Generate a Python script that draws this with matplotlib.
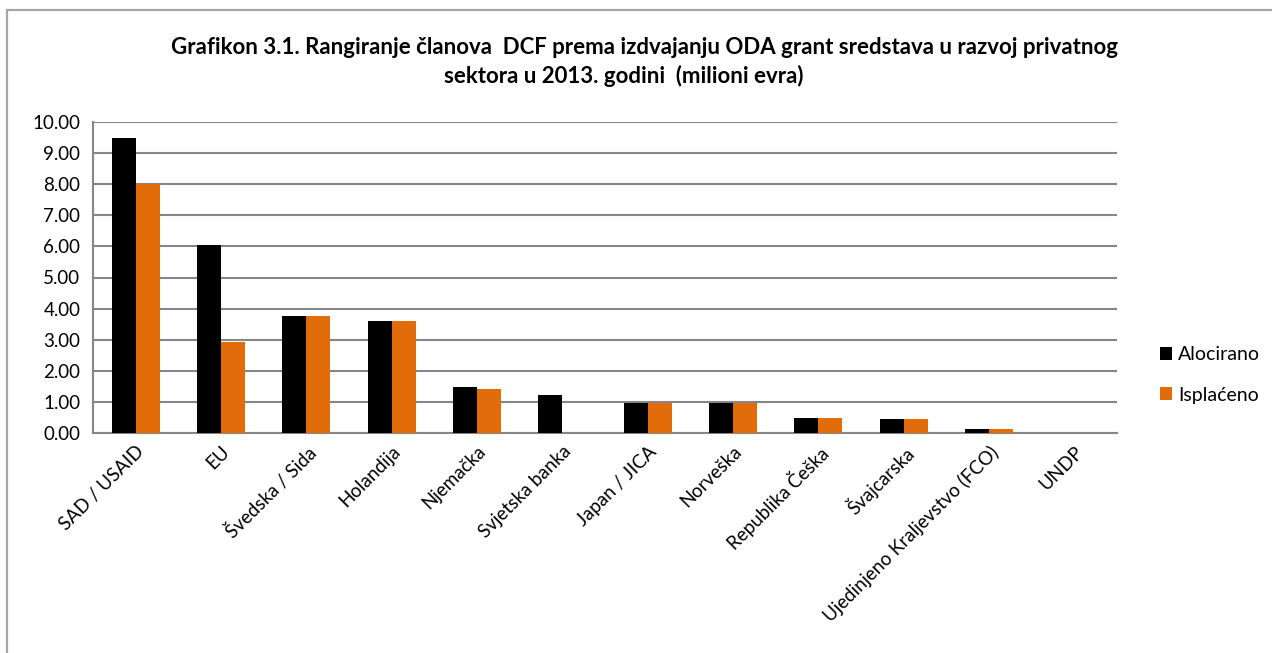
import matplotlib
matplotlib.use("Agg")
from matplotlib import pyplot as plt
from matplotlib.patches import Rectangle
import numpy as np

# data
donors = ["SAD / USAID", "EU", "Švedska / Sida", "Holandija", "Njemačka",
          "Svjetska banka", "Japan / JICA", "Norveška", "Republika Češka",
          "Švajcarska", "Ujedinjeno Kraljevstvo (FCO)", "UNDP"]
alocirano = [9.50, 6.05, 3.75, 3.60, 1.48, 1.21, 0.96, 0.95, 0.48, 0.46, 0.12, 0.0]
isplaceno = [8.02, 2.93, 3.75, 3.60, 1.41, 0.0, 0.96, 0.95, 0.48, 0.46, 0.12, 0.0]
yticks = np.arange(0, 11, 1)

plt.rcParams['font.family'] = ['Lato', 'DejaVu Sans']

fig = plt.figure(figsize=(12.72, 6.53), dpi=100)
# outer chart frame (right/bottom edges run off the picture)
fig.patches.append(Rectangle((7 / 1272, -0.1), 1.2, (653 - 10) / 653 + 0.1,
                             transform=fig.transFigure, fill=False,
                             edgecolor='#a6a6a6', linewidth=1.6))

ax = fig.add_axes([93 / 1272, 1 - 433 / 653, (1117 - 93) / 1272, (433 - 122) / 653])

x = np.arange(len(donors))
w = 0.28
ax.bar(x - w / 2, alocirano, w, color='black', label='Alocirano', zorder=3)
ax.bar(x + w / 2, isplaceno, w, color='#e36c0a', label='Isplaćeno', zorder=3)

ax.set_xlim(-0.5, len(donors) - 0.5)
ax.set_ylim(0, 10)
ax.set_yticks(yticks)
ax.set_yticklabels([f"{v:.2f}" for v in yticks], fontsize=13.5)
ax.yaxis.grid(True, color='#868686', linewidth=1.5, zorder=0)
ax.tick_params(axis='y', length=0, pad=9)
ax.tick_params(axis='x', length=0, pad=7)
ax.set_xticks(x)
ax.set_xticklabels(donors, rotation=45, ha='right', va='top',
                   rotation_mode='anchor', fontsize=13.5)
for s in ['top', 'right']:
    ax.spines[s].set_visible(False)
for s in ['left', 'bottom']:
    ax.spines[s].set_color('#868686')
    ax.spines[s].set_linewidth(1.5)

fig.text(0.507, 1 - 47 / 653,
         "Grafikon 3.1. Rangiranje članova  DCF prema izdvajanju ODA grant sredstava u razvoj privatnog",
         ha='center', va='center', fontsize=16, fontweight='bold')
fig.text(0.49, 1 - 76 / 653, "sektora u 2013. godini  (milioni evra)",
         ha='center', va='center', fontsize=16, fontweight='bold')

fig.legend(loc='center left', bbox_to_anchor=(1142 / 1272, 1 - 375 / 653),
           frameon=False, fontsize=14, handlelength=0.65, handleheight=0.65,
           handletextpad=0.3, labelspacing=1.2)

plt.savefig('out.png', dpi=100)
